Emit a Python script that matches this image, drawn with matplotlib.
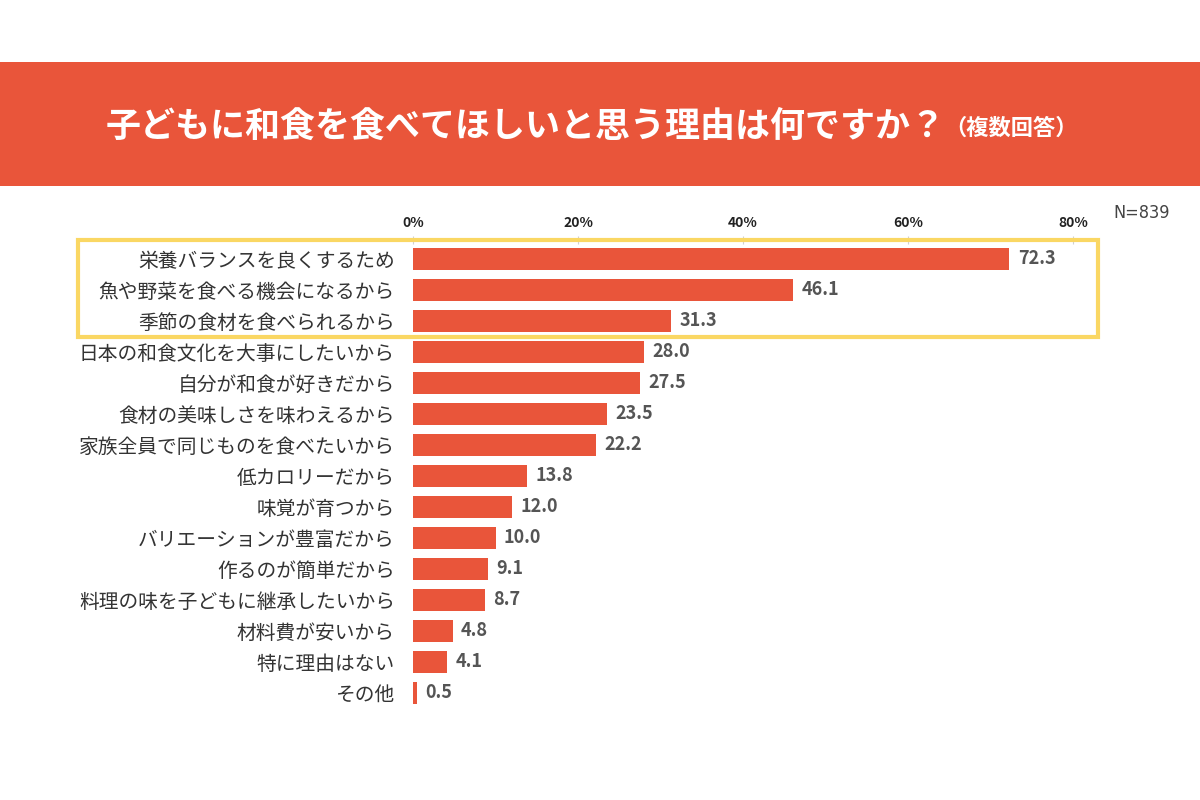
import matplotlib
matplotlib.use("Agg")
import matplotlib.pyplot as plt
from matplotlib.patches import Rectangle

plt.rcParams['font.family'] = ['Noto Sans CJK JP', 'DejaVu Sans']

categories = [
    "栄養バランスを良くするため",
    "魚や野菜を食べる機会になるから",
    "季節の食材を食べられるから",
    "日本の和食文化を大事にしたいから",
    "自分が和食が好きだから",
    "食材の美味しさを味わえるから",
    "家族全員で同じものを食べたいから",
    "低カロリーだから",
    "味覚が育つから",
    "バリエーションが豊富だから",
    "作るのが簡単だから",
    "料理の味を子どもに継承したいから",
    "材料費が安いから",
    "特に理由はない",
    "その他",
]
values = [72.3, 46.1, 31.3, 28.0, 27.5, 23.5, 22.2, 13.8, 12.0, 10.0, 9.1, 8.7, 4.8, 4.1, 0.5]
xticks = [0, 20, 40, 60, 80]
xticklabels = ["0%", "20%", "40%", "60%", "80%"]
title = "子どもに和食を食べてほしいと思う理由は何ですか？"
subtitle = "（複数回答）"
note = "N=839"

ORANGE = "#E9553A"
YELLOW = "#FAD763"
W, H = 1200, 800

fig = plt.figure(figsize=(12, 8), dpi=100)
fig.patch.set_facecolor("white")

# banner
fig.patches.append(Rectangle((0, 1 - 186 / H), 1, 124 / H, transform=fig.transFigure,
                             facecolor=ORANGE, edgecolor="none", zorder=0))
fig.text(106 / W, 1 - 126 / H, title, color="white", fontsize=25.2, fontweight="bold",
         ha="left", va="center")
fig.text(944 / W, 1 - 128 / H, subtitle, color="white", fontsize=16, fontweight="bold",
         ha="left", va="center")

ax = fig.add_axes([413 / W, 1 - 710 / H, (1073 - 413) / W, (710 - 236) / H])
ypos = list(range(len(categories)))
bars = ax.barh(ypos, values, height=0.71, color=ORANGE, zorder=2)
ax.set_xlim(0, 80)
ax.set_ylim(14.55, -0.74)
ax.set_yticks(ypos)
ax.set_yticklabels(categories, fontsize=14.2, color="#333333")
ax.tick_params(axis="y", length=0, pad=13)
ax.xaxis.tick_top()
ax.set_xticks(xticks)
ax.set_xticklabels(xticklabels, fontsize=10, fontweight="bold", color="#222222")
ax.tick_params(axis="x", length=6, direction="in", color="#d0d0d0", pad=4)
for s in ax.spines.values():
    s.set_visible(False)

for b, v in zip(bars, values):
    ax.annotate(f"{v:.1f}", (b.get_width(), b.get_y() + b.get_height() / 2),
                xytext=(6, 0), textcoords="offset points", va="center", ha="left",
                fontsize=13, fontweight="bold", color="#555555")

# highlight box
fig.patches.append(Rectangle((78 / W, 1 - 337 / H), (1098 - 78) / W, (337 - 240) / H,
                             transform=fig.transFigure, facecolor="none",
                             edgecolor=YELLOW, linewidth=3, zorder=5))

fig.text(1170 / W, 1 - 213 / H, note, fontsize=13, color="#444444", ha="right", va="center",
         family=["DejaVu Sans"], stretch="condensed")

fig.savefig("out.png", dpi=100)
